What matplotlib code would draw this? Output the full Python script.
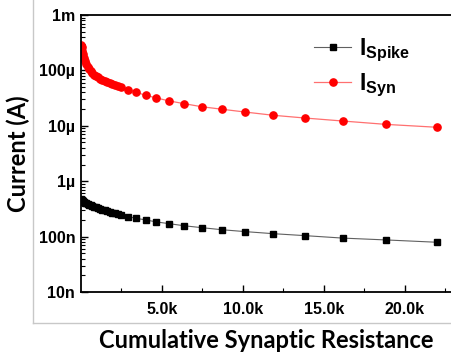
import matplotlib
matplotlib.use('Agg')
import matplotlib.pyplot as plt
import matplotlib.ticker as tck
from matplotlib.lines import Line2D

# cumulative synaptic resistance (kOhm)
res_k = [0.02, 0.05, 0.1, 0.15, 0.2, 0.27, 0.35, 0.43, 0.52, 0.62, 0.72, 0.83,
         0.95, 1.07, 1.2, 1.34, 1.48, 1.63, 1.79, 1.95, 2.12, 2.30, 2.49, 2.94,
         3.41, 4.01, 4.67, 5.47, 6.38, 7.47, 8.72, 10.16, 11.87, 13.86, 16.17,
         18.86, 22.01]

# I_syn in uA
i_syn_u = [292, 262, 225, 195, 170, 148, 130, 117, 106, 97, 90, 84,
           79, 74.5, 71, 67.5, 64.5, 62, 59.5, 57, 54.5, 52, 49.6, 44.9,
           40.3, 35.6, 31.8, 28.1, 25.1, 22.1, 19.9, 17.7, 15.5, 13.8, 12.2,
           10.6, 9.4]

# I_spike in nA
i_spike_n = [475, 465, 450, 438, 425, 412, 400, 388, 377, 366, 356, 346,
             336, 326, 316, 306, 297, 288, 279, 271, 262, 253, 245, 229,
             214, 200, 184, 171, 157, 145, 133, 123, 113, 104, 94,
             87, 79]

x = [r * 1e3 for r in res_k]
syn = [v * 1e-6 for v in i_syn_u]
spike = [v * 1e-9 for v in i_spike_n]

plt.rcParams['mathtext.fontset'] = 'custom'
plt.rcParams['mathtext.bf'] = 'Liberation Sans:bold'
plt.rcParams['mathtext.rm'] = 'Liberation Sans:bold'

fig = plt.figure(figsize=(4.51, 3.54), dpi=100)
ax = fig.add_axes([80.7 / 451, 1 - 292 / 354, 1 - 80.7 / 451, (292 - 15) / 354])

ax.plot(x, spike, color='#606060', lw=0.8, marker='s', ms=4.2,
        mfc='black', mec='black', label=r'$\mathbf{I_{Spike}}$')
ax.plot(x, syn, color='#ff7070', lw=0.9, marker='o', ms=5.2,
        mfc='red', mec='red', label=r'$\mathbf{I_{Syn}}$')

ax.set_yscale('log')
ax.set_ylim(1e-8, 1e-3)
ax.set_xlim(0, 370.3 / 16.2 * 1e3)

def si_fmt(v, pos):
    labs = {1e-3: '1m', 1e-4: '100\u00b5', 1e-5: '10\u00b5', 1e-6: '1\u00b5',
            1e-7: '100n', 1e-8: '10n'}
    for k in labs:
        if abs(v - k) / k < 1e-3:
            return labs[k]
    return ''

ax.yaxis.set_major_locator(tck.LogLocator(base=10))
ax.yaxis.set_minor_locator(tck.LogLocator(base=10, subs=range(2, 10)))
ax.yaxis.set_major_formatter(tck.FuncFormatter(si_fmt))
ax.yaxis.set_minor_formatter(tck.NullFormatter())

ax.xaxis.set_major_locator(tck.FixedLocator([5000, 10000, 15000, 20000]))
ax.xaxis.set_minor_locator(tck.FixedLocator([2500, 7500, 12500, 17500, 22500]))
ax.xaxis.set_major_formatter(tck.FuncFormatter(lambda v, p: '%.1fk' % (v / 1000)))

for lab in ax.get_xticklabels() + ax.get_yticklabels():
    lab.set_fontfamily('Liberation Sans')
    lab.set_fontweight('bold')
    lab.set_fontsize(11.5)
ax.tick_params(which='major', direction='in', length=5, width=1, pad=4)
ax.tick_params(which='minor', direction='in', length=3, width=0.8)
ax.tick_params(axis='x', pad=7)

for s in ['left', 'bottom', 'top']:
    ax.spines[s].set_linewidth(1.3)
ax.spines['right'].set_visible(False)

lfont = {'family': 'Lato', 'weight': 'bold', 'size': 17}
ax.set_ylabel('Current (A)', fontdict=lfont, labelpad=6)
fig.text(266 / 451, 1 - 340 / 354, 'Cumulative Synaptic Resistance',
         ha='center', va='center', fontdict=lfont)

leg = ax.legend(loc='upper left', bbox_to_anchor=(0.575, 0.995), frameon=False,
                fontsize=16.5, handlelength=1.6, labelspacing=0.3,
                handletextpad=0.35)

# light gray frame around the plot
fig.add_artist(Line2D([33 / 451, 33 / 451], [1 - 323 / 354, 1.0],
                      transform=fig.transFigure, color='#c8c8c8', lw=1))
fig.add_artist(Line2D([33 / 451, 1.0], [1 - 323 / 354, 1 - 323 / 354],
                      transform=fig.transFigure, color='#c8c8c8', lw=1))

fig.savefig('out.png', dpi=100)
